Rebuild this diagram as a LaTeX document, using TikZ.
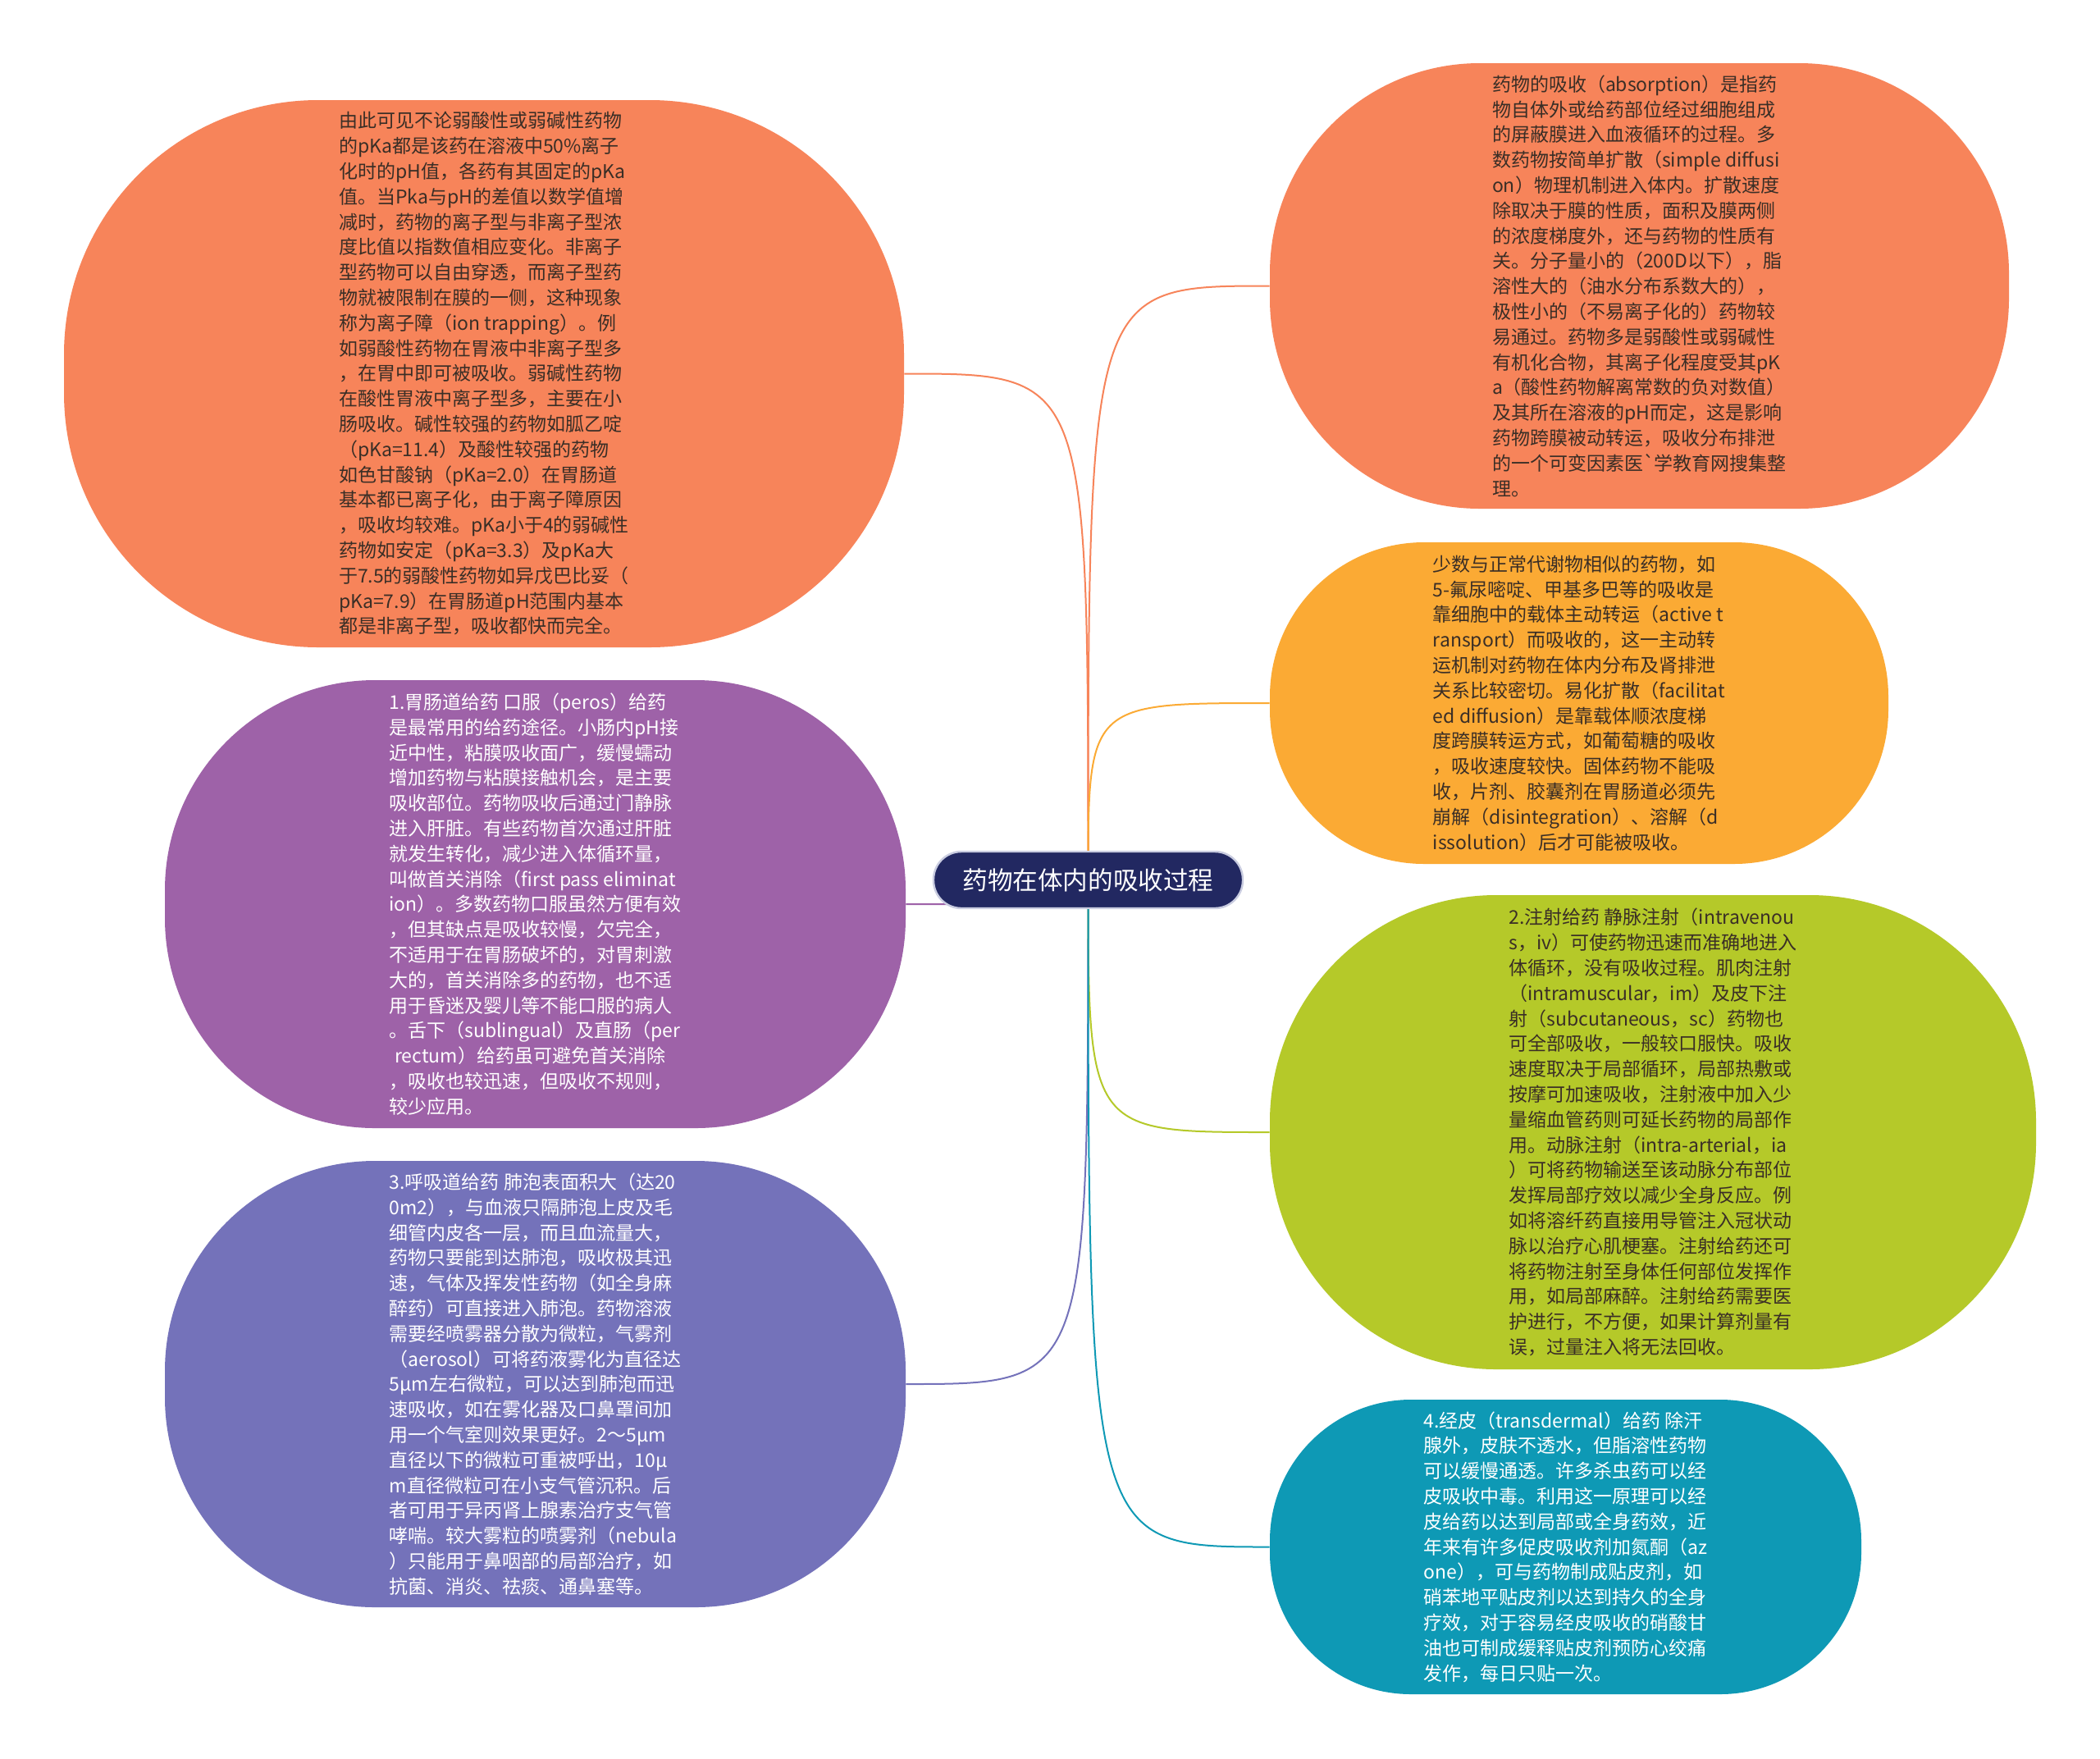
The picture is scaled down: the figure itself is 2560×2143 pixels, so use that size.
\documentclass[tikz,border=0pt]{standalone}
\usepackage{fontspec}
\setmainfont{Noto Sans CJK SC}
\usetikzlibrary{backgrounds}
\definecolor{corange}{HTML}{F7845A}
\definecolor{cpurple}{HTML}{9E62A8}
\definecolor{cviolet}{HTML}{7472BA}
\definecolor{cyellow}{HTML}{FBAA34}
\definecolor{cgreen}{HTML}{B5C929}
\definecolor{cteal}{HTML}{0E99B5}
\definecolor{cnavy}{HTML}{222861}
\definecolor{cborder}{HTML}{C9CCE0}
\definecolor{cdark}{HTML}{3A2E26}
\begin{document}
\begin{tikzpicture}[x=0.5pt,y=-0.5pt,
  bubble/.style={rectangle, align=left, inner sep=0pt, font=\fontsize{11.5}{15.4}\selectfont},
  link/.style={line width=1pt},
  hubbox/.style={rectangle, fill=cnavy, draw=cborder, line width=1.2pt, text=white, rounded corners=17pt,
     minimum width=188.5pt, minimum height=34.5pt, font=\fontsize{15.3}{18}\selectfont}]
\useasboundingbox (0,0) rectangle (2560,2143);

\node[hubbox] (ctr) at (1326.5,1072.5) {药物在体内的吸收过程};

\node[bubble, fill=corange, text=cdark, minimum width=512pt, minimum height=333.5pt, rounded corners=155pt] (tl) at (590,455.5) {%
由此可见不论弱酸性或弱碱性药物\\
的pKa都是该药在溶液中50\%离子\\
化时的pH值，各药有其固定的pKa\\
值。当Pka与pH的差值以数学值增\\
减时，药物的离子型与非离子型浓\\
度比值以指数值相应变化。非离子\\
型药物可以自由穿透，而离子型药\\
物就被限制在膜的一侧，这种现象\\
称为离子障（ion trapping）。例\\
如弱酸性药物在胃液中非离子型多\\
，在胃中即可被吸收。弱碱性药物\\
在酸性胃液中离子型多，主要在小\\
肠吸收。碱性较强的药物如胍乙啶\\
（pKa=11.4）及酸性较强的药物\\
如色甘酸钠（pKa=2.0）在胃肠道\\
基本都已离子化，由于离子障原因\\
，吸收均较难。pKa小于4的弱碱性\\
药物如安定（pKa=3.3）及pKa大\\
于7.5的弱酸性药物如异戊巴比妥（\\
pKa=7.9）在胃肠道pH范围内基本\\
都是非离子型，吸收都快而完全。};

\node[bubble, fill=cpurple, text=white, minimum width=451.5pt, minimum height=273pt, rounded corners=128pt] (p1) at (652.5,1102) {%
1.胃肠道给药 口服（peros）给药\\
是最常用的给药途径。小肠内pH接\\
近中性，粘膜吸收面广，缓慢蠕动\\
增加药物与粘膜接触机会，是主要\\
吸收部位。药物吸收后通过门静脉\\
进入肝脏。有些药物首次通过肝脏\\
就发生转化，减少进入体循环量，\\
叫做首关消除（first pass eliminat\\
ion）。多数药物口服虽然方便有效\\
，但其缺点是吸收较慢，欠完全，\\
不适用于在胃肠破坏的，对胃刺激\\
大的，首关消除多的药物，也不适\\
用于昏迷及婴儿等不能口服的病人\\
。舌下（sublingual）及直肠（per\\
\hspace{0.3em}rectum）给药虽可避免首关消除\\
，吸收也较迅速，但吸收不规则，\\
较少应用。};

\node[bubble, fill=cviolet, text=white, minimum width=451.5pt, minimum height=272pt, rounded corners=128pt] (p3) at (652.5,1687) {%
3.呼吸道给药 肺泡表面积大（达20\\
0m2），与血液只隔肺泡上皮及毛\\
细管内皮各一层，而且血流量大，\\
药物只要能到达肺泡，吸收极其迅\\
速，气体及挥发性药物（如全身麻\\
醉药）可直接进入肺泡。药物溶液\\
需要经喷雾器分散为微粒，气雾剂\\
（aerosol）可将药液雾化为直径达\\
5μm左右微粒，可以达到肺泡而迅\\
速吸收，如在雾化器及口鼻罩间加\\
用一个气室则效果更好。2～5μm\\
直径以下的微粒可重被呼出，10μ\\
m直径微粒可在小支气管沉积。后\\
者可用于异丙肾上腺素治疗支气管\\
哮喘。较大雾粒的喷雾剂（nebula\\
）只能用于鼻咽部的局部治疗，如\\
抗菌、消炎、祛痰、通鼻塞等。};

\node[bubble, fill=corange, text=cdark, minimum width=450.5pt, minimum height=271.5pt, rounded corners=128pt] (r1) at (1998.5,348.5) {%
药物的吸收（absorption）是指药\\
物自体外或给药部位经过细胞组成\\
的屏蔽膜进入血液循环的过程。多\\
数药物按简单扩散（simple diffusi\\
on）物理机制进入体内。扩散速度\\
除取决于膜的性质，面积及膜两侧\\
的浓度梯度外，还与药物的性质有\\
关。分子量小的（200D以下），脂\\
溶性大的（油水分布系数大的），\\
极性小的（不易离子化的）药物较\\
易通过。药物多是弱酸性或弱碱性\\
有机化合物，其离子化程度受其pK\\
a（酸性药物解离常数的负对数值）\\
及其所在溶液的pH而定，这是影响\\
药物跨膜被动转运，吸收分布排泄\\
的一个可变因素医\textasciigrave 学教育网搜集整\\
理。};

\node[bubble, fill=cyellow, text=cdark, minimum width=377pt, minimum height=196pt, rounded corners=94pt] (r2) at (1925,857) {%
少数与正常代谢物相似的药物，如\\
5-氟尿嘧啶、甲基多巴等的吸收是\\
靠细胞中的载体主动转运（active t\\
ransport）而吸收的，这一主动转\\
运机制对药物在体内分布及肾排泄\\
关系比较密切。易化扩散（facilitat\\
ed diffusion）是靠载体顺浓度梯\\
度跨膜转运方式，如葡萄糖的吸收\\
，吸收速度较快。固体药物不能吸\\
收，片剂、胶囊剂在胃肠道必须先\\
崩解（disintegration）、溶解（d\\
issolution）后才可能被吸收。};

\node[bubble, fill=cgreen, text=cdark, minimum width=467pt, minimum height=289pt, rounded corners=138pt] (r3) at (2015,1380) {%
2.注射给药 静脉注射（intravenou\\
s，iv）可使药物迅速而准确地进入\\
体循环，没有吸收过程。肌肉注射\\
（intramuscular，im）及皮下注\\
射（subcutaneous，sc）药物也\\
可全部吸收，一般较口服快。吸收\\
速度取决于局部循环，局部热敷或\\
按摩可加速吸收，注射液中加入少\\
量缩血管药则可延长药物的局部作\\
用。动脉注射（intra-arterial，ia\\
）可将药物输送至该动脉分布部位\\
发挥局部疗效以减少全身反应。例\\
如将溶纤药直接用导管注入冠状动\\
脉以治疗心肌梗塞。注射给药还可\\
将药物注射至身体任何部位发挥作\\
用，如局部麻醉。注射给药需要医\\
护进行，不方便，如果计算剂量有\\
误，过量注入将无法回收。};

\node[bubble, fill=cteal, text=white, minimum width=360.5pt, minimum height=179.5pt, rounded corners=86pt] (r4) at (1908.5,1885.5) {%
4.经皮（transdermal）给药 除汗\\
腺外，皮肤不透水，但脂溶性药物\\
可以缓慢通透。许多杀虫药可以经\\
皮吸收中毒。利用这一原理可以经\\
皮给药以达到局部或全身药效，近\\
年来有许多促皮吸收剂加氮酮（az\\
one），可与药物制成贴皮剂，如\\
硝苯地平贴皮剂以达到持久的全身\\
疗效，对于容易经皮吸收的硝酸甘\\
油也可制成缓释贴皮剂预防心绞痛\\
发作，每日只贴一次。};

\begin{scope}[on background layer]
\fill[white] (0,0) rectangle (2560,2143);
\draw[link, draw=corange] (ctr.center) .. controls (ctr.center |- tl.east) .. (tl.east);
\draw[link, draw=cpurple] (ctr.center) .. controls (ctr.center |- p1.east) .. (p1.east);
\draw[link, draw=cviolet] (ctr.center) .. controls (ctr.center |- p3.east) .. (p3.east);
\draw[link, draw=corange] (ctr.center) .. controls (ctr.center |- r1.west) .. (r1.west);
\draw[link, draw=cyellow] (ctr.center) .. controls (ctr.center |- r2.west) .. (r2.west);
\draw[link, draw=cgreen] (ctr.center) .. controls (ctr.center |- r3.west) .. (r3.west);
\draw[link, draw=cteal] (ctr.center) .. controls (ctr.center |- r4.west) .. (r4.west);
\end{scope}
\end{tikzpicture}
\end{document}
